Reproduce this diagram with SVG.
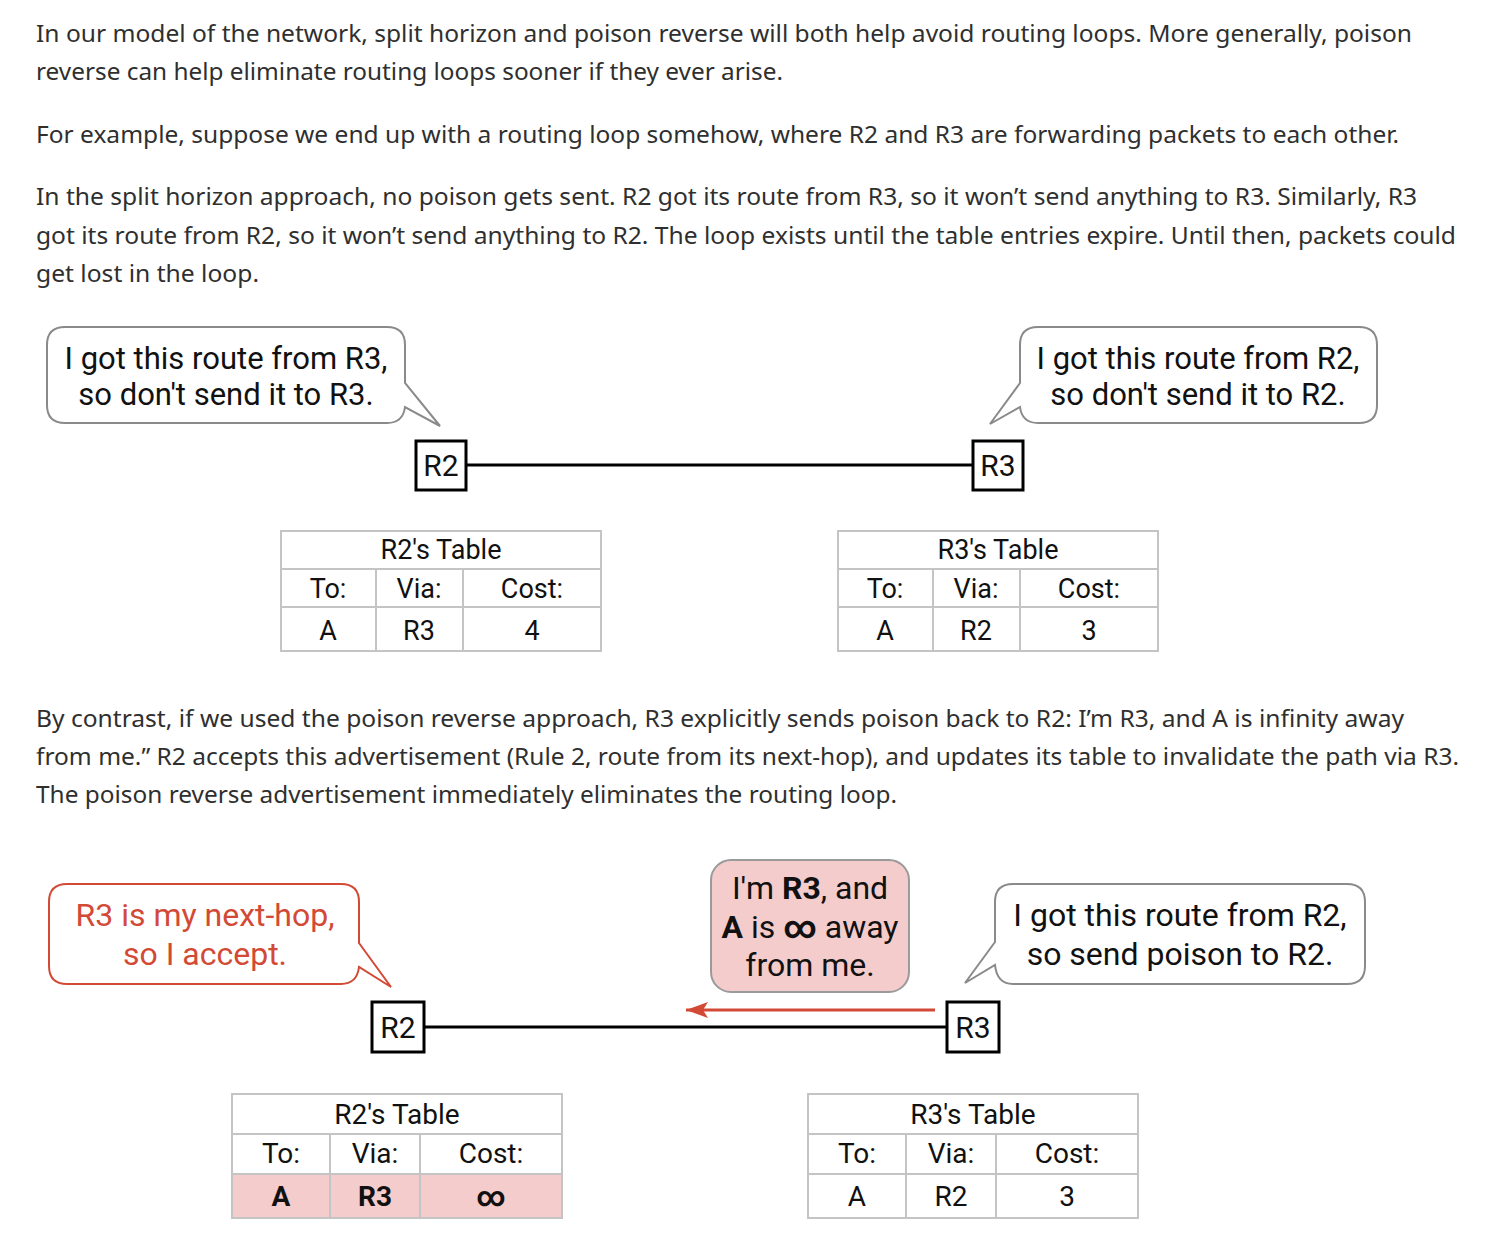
<svg xmlns="http://www.w3.org/2000/svg" width="1506" height="1248" viewBox="0 0 1506 1248">
<style>
.p{font-family:"Noto Sans","Open Sans",sans-serif;font-size:24px;fill:#2f2f2f}
.d{font-family:Roboto,"Liberation Sans",sans-serif;font-size:31px;fill:#111;text-anchor:middle}
.d2{font-size:32px}
.n{font-size:30px}
.t{font-family:Roboto,"Liberation Sans",sans-serif;font-size:27px;fill:#111;text-anchor:middle}
.t2{font-size:28px}
.red{fill:#d24a36}
.b{font-weight:bold}
.bub{fill:#fff;stroke:#8a8a8a;stroke-width:2}
.rbub{fill:#fff;stroke:#d24a36;stroke-width:2}
.node{fill:#fff;stroke:#000;stroke-width:3}
.grid{fill:none;stroke:#c4c4c4;stroke-width:2}
.wire{stroke:#000;stroke-width:3}
</style>
<defs>
<marker id="ah" markerWidth="22" markerHeight="18" refX="22" refY="9" orient="auto" markerUnits="userSpaceOnUse">
<path d="M0,1 L22,9 L0,17 L5,9 Z" fill="#d24a36"/>
</marker>
</defs>
<rect width="1506" height="1248" fill="#fff"/>

<g id="text">
<text class="p" x="36" y="42" textLength="1376" lengthAdjust="spacingAndGlyphs">In our model of the network, split horizon and poison reverse will both help avoid routing loops. More generally, poison</text>
<text class="p" x="36" y="80" textLength="747" lengthAdjust="spacingAndGlyphs">reverse can help eliminate routing loops sooner if they ever arise.</text>
<text class="p" x="36" y="143" textLength="1363" lengthAdjust="spacingAndGlyphs">For example, suppose we end up with a routing loop somehow, where R2 and R3 are forwarding packets to each other.</text>
<text class="p" x="36" y="205" textLength="1381" lengthAdjust="spacingAndGlyphs">In the split horizon approach, no poison gets sent. R2 got its route from R3, so it won’t send anything to R3. Similarly, R3</text>
<text class="p" x="36" y="244" textLength="1420" lengthAdjust="spacingAndGlyphs">got its route from R2, so it won’t send anything to R2. The loop exists until the table entries expire. Until then, packets could</text>
<text class="p" x="36" y="282" textLength="223" lengthAdjust="spacingAndGlyphs">get lost in the loop.</text>
<text class="p" x="36" y="727" textLength="1368" lengthAdjust="spacingAndGlyphs">By contrast, if we used the poison reverse approach, R3 explicitly sends poison back to R2: I’m R3, and A is infinity away</text>
<text class="p" x="36" y="765" textLength="1423" lengthAdjust="spacingAndGlyphs">from me.” R2 accepts this advertisement (Rule 2, route from its next-hop), and updates its table to invalidate the path via R3.</text>
<text class="p" x="36" y="803" textLength="861" lengthAdjust="spacingAndGlyphs">The poison reverse advertisement immediately eliminates the routing loop.</text>
</g>

<g id="connectors">
<line class="wire" x1="466" y1="465" x2="973" y2="465"/>
<line class="wire" x1="424" y1="1027" x2="947" y2="1027"/>
<line x1="935" y1="1010" x2="686" y2="1010" stroke="#d24a36" stroke-width="3" marker-end="url(#ah)"/>
</g>

<g id="bubble-top-left">
<path class="bub" d="M65,327 H387 Q405,327 405,345 V383 L440,426 L405,407 Q403,423 387,423 H65 Q47,423 47,405 V345 Q47,327 65,327 Z"/>
<text class="d" x="226" y="369">I got this route from R3,</text>
<text class="d" x="226" y="405">so don't send it to R3.</text>
</g>

<g id="bubble-top-right">
<path class="bub" d="M1038,327 H1359 Q1377,327 1377,345 V405 Q1377,423 1359,423 H1038 Q1022,423 1020,407 L990,424 L1020,383 V345 Q1020,327 1038,327 Z"/>
<text class="d" x="1198" y="369">I got this route from R2,</text>
<text class="d" x="1198" y="405">so don't send it to R2.</text>
</g>

<g id="R2-top">
<rect class="node" x="416" y="441" width="50" height="49"/>
<text class="d n" x="441" y="476">R2</text>
</g>
<g id="R3-top">
<rect class="node" x="973" y="441" width="50" height="49"/>
<text class="d n" x="998" y="476">R3</text>
</g>

<g id="table-R2-top">
<rect class="grid" x="281" y="531" width="320" height="120"/>
<line class="grid" x1="281" y1="569" x2="601" y2="569"/>
<line class="grid" x1="281" y1="607" x2="601" y2="607"/>
<line class="grid" x1="376" y1="569" x2="376" y2="651"/>
<line class="grid" x1="463" y1="569" x2="463" y2="651"/>
<text class="t" x="441" y="559">R2's Table</text>
<text class="t" x="328" y="598">To:</text>
<text class="t" x="419" y="598">Via:</text>
<text class="t" x="532" y="598">Cost:</text>
<text class="t" x="328" y="640">A</text>
<text class="t" x="419" y="640">R3</text>
<text class="t" x="532" y="640">4</text>
</g>

<g id="table-R3-top">
<rect class="grid" x="838" y="531" width="320" height="120"/>
<line class="grid" x1="838" y1="569" x2="1158" y2="569"/>
<line class="grid" x1="838" y1="607" x2="1158" y2="607"/>
<line class="grid" x1="933" y1="569" x2="933" y2="651"/>
<line class="grid" x1="1020" y1="569" x2="1020" y2="651"/>
<text class="t" x="998" y="559">R3's Table</text>
<text class="t" x="885" y="598">To:</text>
<text class="t" x="976" y="598">Via:</text>
<text class="t" x="1089" y="598">Cost:</text>
<text class="t" x="885" y="640">A</text>
<text class="t" x="976" y="640">R2</text>
<text class="t" x="1089" y="640">3</text>
</g>

<g id="bubble-bottom-left">
<path class="rbub" d="M67,884 H341 Q359,884 359,902 V943 L391,987 L359,967 Q357,984 341,984 H67 Q49,984 49,966 V902 Q49,884 67,884 Z"/>
<text class="d d2 red" x="205" y="926">R3 is my next-hop,</text>
<text class="d d2 red" x="205" y="965">so I accept.</text>
</g>

<g id="bubble-middle">
<rect x="711" y="860" width="198" height="132" rx="20" fill="#f4cccc" stroke="#9a9a9a" stroke-width="2"/>
<text class="d d2" x="810" y="899">I'm <tspan class="b">R3</tspan>, and</text>
<text class="d d2" x="810" y="938"><tspan class="b">A</tspan> is <tspan class="b">∞</tspan> away</text>
<text class="d d2" x="810" y="976">from me.</text>
</g>

<g id="bubble-bottom-right">
<path class="bub" d="M1013,884 H1347 Q1365,884 1365,902 V966 Q1365,984 1347,984 H1013 Q997,984 995,965 L965,983 L995,942 V902 Q995,884 1013,884 Z"/>
<text class="d d2" x="1180" y="926">I got this route from R2,</text>
<text class="d d2" x="1180" y="965">so send poison to R2.</text>
</g>

<g id="R2-bottom">
<rect class="node" x="372" y="1002" width="52" height="50"/>
<text class="d n" x="398" y="1038">R2</text>
</g>
<g id="R3-bottom">
<rect class="node" x="947" y="1002" width="52" height="50"/>
<text class="d n" x="973" y="1038">R3</text>
</g>

<g id="table-R2-bottom">
<rect x="232" y="1174" width="330" height="44" fill="#f4cccc"/>
<rect class="grid" x="232" y="1094" width="330" height="124"/>
<line class="grid" x1="232" y1="1134" x2="562" y2="1134"/>
<line class="grid" x1="232" y1="1174" x2="562" y2="1174"/>
<line class="grid" x1="330" y1="1134" x2="330" y2="1218"/>
<line class="grid" x1="420" y1="1134" x2="420" y2="1218"/>
<text class="t t2" x="397" y="1124">R2's Table</text>
<text class="t t2" x="281" y="1163">To:</text>
<text class="t t2" x="375" y="1163">Via:</text>
<text class="t t2" x="491" y="1163">Cost:</text>
<text class="t t2 b" x="281" y="1206">A</text>
<text class="t t2 b" x="375" y="1206">R3</text>
<text class="t t2 b" x="491" y="1206">∞</text>
</g>

<g id="table-R3-bottom">
<rect class="grid" x="808" y="1094" width="330" height="124"/>
<line class="grid" x1="808" y1="1134" x2="1138" y2="1134"/>
<line class="grid" x1="808" y1="1174" x2="1138" y2="1174"/>
<line class="grid" x1="906" y1="1134" x2="906" y2="1218"/>
<line class="grid" x1="996" y1="1134" x2="996" y2="1218"/>
<text class="t t2" x="973" y="1124">R3's Table</text>
<text class="t t2" x="857" y="1163">To:</text>
<text class="t t2" x="951" y="1163">Via:</text>
<text class="t t2" x="1067" y="1163">Cost:</text>
<text class="t t2" x="857" y="1206">A</text>
<text class="t t2" x="951" y="1206">R2</text>
<text class="t t2" x="1067" y="1206">3</text>
</g>
</svg>
